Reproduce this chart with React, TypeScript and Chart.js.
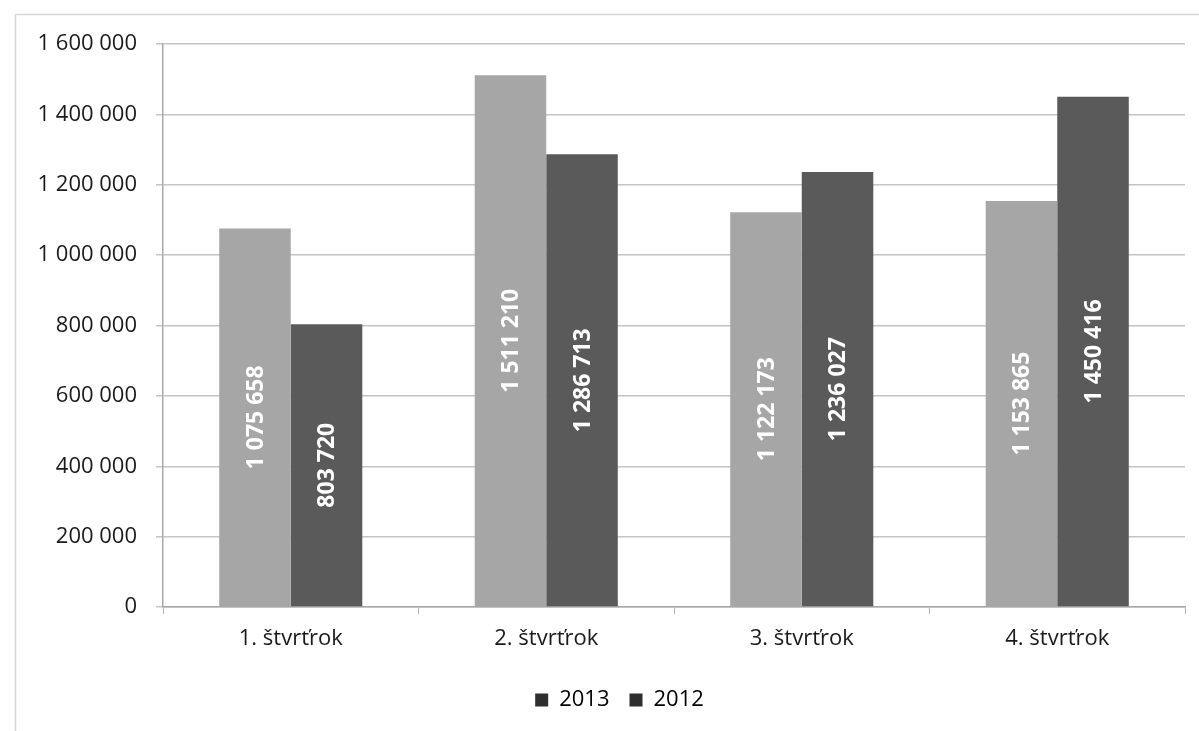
import React, { useEffect, useRef } from "react";
import { Chart, registerables } from "chart.js";

Chart.register(...registerables);

const categories = ["1. štvrťrok", "2. štvrťrok", "3. štvrťrok", "4. štvrťrok"];
const seriesNames = ["2013", "2012"];
const values2013 = [1075658, 1511210, 1122173, 1153865];
const values2012 = [803720, 1286713, 1236027, 1450416];
const colors = ["#a6a6a6", "#5a5a5a"];
const yMin = 0;
const yMax = 1600000;
const yStep = 200000;

const fmt = (v: number) =>
  String(Math.round(v)).replace(/\B(?=(\d{3})+(?!\d))/g, " ");

const FONT = "'Open Sans', 'Noto Sans', sans-serif";

const framePlugin = {
  id: "frame",
  beforeDraw(chart: any) {
    const ctx = chart.ctx;
    ctx.save();
    ctx.fillStyle = "#ffffff";
    ctx.fillRect(0, 0, chart.width, chart.height);
    ctx.strokeStyle = "#d6d6d6";
    ctx.lineWidth = 1.5;
    ctx.strokeRect(15.5, 14.5, chart.width + 50, chart.height + 50);
    ctx.restore();
  },
  afterLayout(chart: any) {
    if (chart.legend) {
      chart.legend.left += 27;
      chart.legend.right += 27;
    }
  },
};

const labelPlugin = {
  id: "barLabels",
  afterDatasetsDraw(chart: any) {
    const ctx = chart.ctx;
    ctx.save();
    ctx.fillStyle = "#ffffff";
    ctx.font = `bold 23px ${FONT}`;
    ctx.textAlign = "center";
    ctx.textBaseline = "middle";
    chart.data.datasets.forEach((ds: any, di: number) => {
      const meta = chart.getDatasetMeta(di);
      meta.data.forEach((bar: any, i: number) => {
        const x = bar.x;
        const y = (bar.y + bar.base) / 2;
        ctx.save();
        ctx.translate(x, y);
        ctx.rotate(-Math.PI / 2);
        ctx.fillText(fmt(ds.data[i]), 0, 1);
        ctx.restore();
      });
    });
    ctx.restore();
  },
};

export default function App() {
  const ref = useRef<HTMLCanvasElement>(null);

  useEffect(() => {
    if (!ref.current) return;
    const chart = new Chart(ref.current, {
      type: "bar",
      data: {
        labels: categories,
        datasets: [
          { label: seriesNames[0], data: values2013, backgroundColor: colors[0], borderWidth: 0 },
          { label: seriesNames[1], data: values2012, backgroundColor: colors[1], borderWidth: 0 },
        ],
      },
      options: {
        animation: false,
        responsive: false,
        devicePixelRatio: 1,
        layout: { padding: { left: 0, right: 14, top: 44, bottom: 10 } },
        datasets: { bar: { barPercentage: 1, categoryPercentage: 0.56 } },
        plugins: {
          tooltip: { enabled: false },
          legend: {
            position: "bottom",
            labels: {
              color: "#1a1a1a",
              font: { family: FONT, size: 22 },
              boxWidth: 13,
              boxHeight: 13,
              padding: 20,
              generateLabels: (chart: any) =>
                chart.data.datasets.map((ds: any, i: number) => ({
                  text: ds.label,
                  fillStyle: "#2e2e2e",
                  strokeStyle: "#2e2e2e",
                  lineWidth: 0,
                  hidden: false,
                  datasetIndex: i,
                })),
            },
          },
        },
        scales: {
          x: {
            grid: {
              offset: true,
              drawOnChartArea: false,
              drawTicks: true,
              tickLength: 7,
              color: "#b5b5b5",
            },
            border: { color: "#a8a8a8", width: 1.5 },
            ticks: {
              color: "#1a1a1a",
              font: { family: FONT, size: 22 },
              padding: 12,
              maxRotation: 0,
            },
            afterFit: (s: any) => {
              s.height = 62;
            },
          },
          y: {
            min: yMin,
            max: yMax,
            grid: { color: "#c4c4c4", lineWidth: 1.5, tickLength: 7 },
            border: { color: "#a8a8a8", width: 1.5 },
            ticks: {
              stepSize: yStep,
              color: "#1a1a1a",
              font: { family: FONT, size: 22 },
              padding: 19,
              callback: (v: any) => fmt(Number(v)),
            },
            afterFit: (s: any) => {
              s.width = 163;
            },
          },
        },
      },
      plugins: [framePlugin, labelPlugin],
    });
    return () => chart.destroy();
  }, []);

  return (
    <div style={{ position: "fixed", left: 0, top: 0, width: 1199, height: 731, overflow: "hidden", background: "#fff" }}>
      <canvas ref={ref} width={1199} height={731} style={{ display: "block", width: 1199, height: 731 }} />
    </div>
  );
}
